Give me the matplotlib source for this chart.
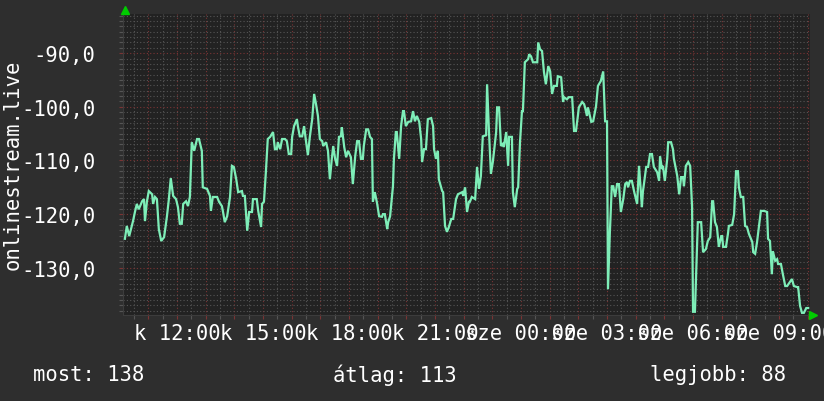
import matplotlib
matplotlib.use('Agg')
import matplotlib.pyplot as plt
from matplotlib.ticker import MultipleLocator, FuncFormatter

# minutes since midnight of the first day (kedd), signal values
t_min = [611, 615, 620, 628, 632, 636, 640, 647, 651, 653, 657, 661, 668, 670, 674, 678,
         682, 687, 693, 699, 703, 707, 712, 718, 722, 726, 730, 733, 739, 743, 747, 751,
         756, 762, 766, 772, 774, 783, 789, 791, 795, 804, 808, 814, 816, 820, 825, 831,
         835, 839, 844, 848, 856, 858, 862, 867, 871, 877, 879, 887, 890, 896, 898, 902,
         906, 910, 915, 921, 925, 929, 931, 936, 940, 946, 950, 954, 959, 961, 965, 971,
         973, 977, 982, 986, 990, 994, 998, 1003, 1007, 1011, 1015, 1019, 1024, 1026, 1032,
         1036, 1040, 1044, 1047, 1051, 1055, 1059, 1063, 1065, 1070, 1074, 1078, 1084, 1088,
         1093, 1097, 1101, 1105, 1109, 1111, 1116, 1120, 1124, 1128, 1130, 1134, 1139, 1143,
         1149, 1151, 1155, 1160, 1162, 1166, 1172, 1174, 1178, 1180, 1185, 1189, 1193, 1195,
         1199, 1204, 1210, 1214, 1218, 1222, 1227, 1231, 1233, 1237, 1241, 1245, 1252, 1256,
         1258, 1262, 1266, 1268, 1275, 1277, 1281, 1285, 1289, 1294, 1298, 1304, 1308, 1317,
         1319, 1323, 1327, 1331, 1333, 1337, 1344, 1348, 1352, 1356, 1360, 1367, 1369, 1373,
         1377, 1381, 1388, 1390, 1394, 1398, 1402, 1404, 1409, 1413, 1415, 1421, 1423, 1427,
         1432, 1434, 1438, 1442, 1444, 1448, 1455, 1457, 1461, 1465, 1474, 1476, 1480, 1484,
         1488, 1492, 1497, 1501, 1505, 1509, 1515, 1517, 1524, 1528, 1530, 1536, 1540, 1547,
         1551, 1555, 1559, 1561, 1568, 1572, 1574, 1578, 1580, 1587, 1591, 1597, 1601, 1607,
         1612, 1616, 1620, 1622, 1626, 1630, 1633, 1637, 1641, 1645, 1649, 1654, 1658, 1662,
         1664, 1668, 1672, 1677, 1683, 1687, 1689, 1693, 1695, 1702, 1706, 1710, 1714, 1718,
         1725, 1729, 1731, 1735, 1737, 1741, 1746, 1748, 1754, 1758, 1760, 1767, 1771, 1775,
         1779, 1781, 1785, 1790, 1794, 1798, 1800, 1804, 1808, 1810, 1817, 1821, 1827, 1831,
         1836, 1840, 1842, 1846, 1850, 1854, 1859, 1861, 1863, 1869, 1873, 1875, 1882, 1886,
         1890, 1894, 1896, 1900, 1905, 1909, 1913, 1917, 1924, 1926, 1930, 1934, 1936, 1942,
         1949, 1955, 1957, 1961, 1965, 1967, 1972, 1976, 1978, 1984, 1988, 1993, 1997, 2003,
         2007, 2011, 2018, 2020, 2024, 2028, 2032, 2037, 2041]

vals = [-124.6, -122.2, -124.1, -121.3, -119.6, -118.1, -119.1, -117.6, -117.2, -121.3,
        -117.7, -115.7, -116.3, -118.1, -116.8, -117.2, -122.8, -125.0, -124.3, -120.4,
        -117.2, -113.3, -116.6, -117.2, -118.7, -121.8, -121.8, -118.1, -117.6, -118.5,
        -116.8, -106.6, -108.2, -106.0, -106.0, -108.2, -115.0, -115.3, -116.6, -119.4,
        -116.8, -116.8, -117.7, -118.5, -119.4, -121.5, -120.4, -116.8, -111.0, -111.2,
        -113.5, -115.9, -115.7, -116.6, -116.6, -123.1, -119.6, -119.6, -117.2, -117.2,
        -119.4, -122.4, -118.1, -117.7, -112.2, -106.0, -105.6, -104.7, -107.9, -107.9,
        -106.6, -107.9, -106.0, -106.0, -106.4, -108.8, -108.8, -105.6, -103.6, -102.3,
        -103.6, -105.5, -105.5, -103.6, -106.4, -109.0, -105.6, -102.3, -97.6, -99.5,
        -101.7, -106.0, -106.4, -107.3, -106.6, -108.2, -113.5, -109.7, -107.3, -109.7,
        -111.0, -105.6, -105.5, -103.8, -107.5, -109.4, -108.2, -109.4, -114.4, -109.2,
        -106.4, -106.4, -109.7, -109.7, -107.3, -104.2, -104.2, -105.6, -106.0, -117.7,
        -115.9, -118.1, -120.4, -120.5, -120.0, -120.0, -122.8, -121.5, -120.4, -114.8,
        -109.7, -104.7, -104.7, -109.7, -103.6, -100.8, -100.8, -103.6, -102.8, -102.7,
        -100.8, -102.7, -101.7, -102.8, -106.0, -110.3, -107.9, -107.9, -102.3, -102.1,
        -103.6, -107.9, -109.7, -108.2, -113.5, -115.7, -115.9, -122.2, -123.3, -122.4,
        -120.9, -120.9, -117.2, -116.3, -115.9, -116.6, -115.0, -119.6, -117.7, -117.7,
        -116.8, -117.2, -111.2, -115.3, -112.9, -105.5, -105.3, -95.8, -104.7, -112.5,
        -110.3, -104.7, -100.1, -100.1, -107.3, -106.9, -107.5, -104.7, -111.0, -105.6,
        -105.6, -115.9, -118.7, -115.3, -115.0, -106.4, -100.8, -100.8, -91.7, -91.1,
        -90.2, -90.6, -91.7, -91.7, -88.0, -89.3, -89.6, -93.5, -95.8, -92.4,
        -93.4, -97.6, -96.1, -96.1, -94.3, -94.5, -99.1, -98.2, -98.6, -98.2,
        -98.2, -104.5, -104.5, -101.7, -100.1, -99.1, -99.5, -100.1, -101.7, -100.1,
        -102.8, -102.7, -99.9, -96.1, -95.2, -93.4, -102.7, -102.7, -134.0, -123.3,
        -114.8, -114.8, -116.8, -114.4, -114.4, -119.6, -117.2, -114.4, -114.0, -115.0,
        -113.8, -113.8, -115.9, -118.1, -111.0, -113.5, -118.7, -115.9, -111.2, -111.2,
        -108.8, -108.8, -111.2, -112.2, -113.8, -109.2, -111.6, -111.0, -113.8, -109.7,
        -106.6, -106.6, -107.9, -109.7, -112.9, -116.3, -113.1, -113.1, -114.8, -111.0,
        -110.3, -111.0, -118.7, -138.2, -138.2, -127.4, -121.5, -121.5, -127.1, -126.5,
        -125.0, -124.3, -117.6, -117.6, -121.5, -122.4, -126.1, -124.1, -124.1, -126.1,
        -126.1, -123.7, -122.2, -122.0, -120.0, -112.0, -112.0, -115.0, -116.8, -116.8,
        -122.2, -122.4, -123.7, -125.2, -127.1, -127.4, -125.2, -123.7, -119.4, -119.4,
        -119.6, -124.6, -125.0, -131.2, -126.9, -128.7, -128.4, -129.3, -129.3, -131.2,
        -133.4, -133.4, -132.6, -132.1, -133.4, -133.6, -133.6, -137.1, -138.4, -138.4,
        -137.5, -137.5]

tick_hours = [12, 15, 18, 21, 24, 27, 30, 33]
tick_labels = ['k 12:00', 'k 15:00', 'k 18:00', 'k 21:00',
               'sze 00:00', 'sze 03:00', 'sze 06:00', 'sze 09:00']
ylabel = 'onlinestream.live'
footer = ['most: 138', 'átlag: 113', 'legjobb: 88']

BG = '#2e2e2e'
PLOT_BG = '#222222'
LINE = '#7eeeb8'
MINOR = '#555555'
MAJOR = '#7a3434'
FG = '#ffffff'

plt.rcParams['font.family'] = ['DejaVu Sans Mono']
FS = 14.8

fig = plt.figure(figsize=(8.24, 4.02), dpi=100, facecolor=BG)
ax = fig.add_axes([123 / 824, 1 - 316 / 402, 687 / 824, 301 / 402])
ax.set_facecolor(PLOT_BG)

hours = [t / 60 for t in t_min]
ax.plot(hours, vals, color=LINE, lw=1.6, zorder=3, solid_joinstyle='miter')

ax.set_xlim(10.117, 34.08)
ax.set_ylim(-138.8, -82.7)

ax.xaxis.set_major_locator(MultipleLocator(1))
ax.xaxis.set_minor_locator(MultipleLocator(0.5))
ax.yaxis.set_major_locator(MultipleLocator(10))
ax.yaxis.set_minor_locator(MultipleLocator(1))

lab = dict(zip(tick_hours, tick_labels))
ax.xaxis.set_major_formatter(FuncFormatter(lambda v, p: lab.get(int(round(v)), '')))
ax.yaxis.set_major_formatter(FuncFormatter(lambda v, p: f'{v:.1f}'.replace('.', ',')))

ax.grid(which='minor', color=MINOR, ls=(0, (1, 2)), lw=0.8, zorder=1)
ax.grid(which='major', color=MAJOR, ls=(0, (1, 2)), lw=0.8, zorder=2)
ax.set_axisbelow(True)

ax.tick_params(axis='both', which='both', colors=FG, labelsize=FS, length=3, width=0.8)
ax.tick_params(axis='x', which='major', color=MAJOR, pad=3)
ax.tick_params(axis='x', which='minor', color=MINOR)
ax.tick_params(axis='y', which='major', color=MAJOR, pad=17)
ax.tick_params(axis='y', which='minor', color=MINOR)

for s in ax.spines.values():
    s.set_visible(False)
ax.spines['bottom'].set_visible(True)
ax.spines['bottom'].set_color('#3c3c3c')
ax.spines['left'].set_visible(True)
ax.spines['left'].set_color('#3c3c3c')

# rrdtool style arrows
ax.plot([0.003], [1.012], marker='^', ms=6, color='#00cc00', transform=ax.transAxes,
        clip_on=False, zorder=5)
ax.plot([1.005], [0.0], marker='>', ms=6, color='#00cc00', transform=ax.transAxes,
        clip_on=False, zorder=5)

fig.text(13 / 824, 0.59, ylabel, rotation=90, color=FG, fontsize=FS,
         ha='center', va='center')

fig.text(33 / 824, 1 - 375 / 402, footer[0], color=FG, fontsize=FS, va='center')
fig.text(333 / 824, 1 - 375 / 402, footer[1], color=FG, fontsize=FS, va='center')
fig.text(650 / 824, 1 - 375 / 402, footer[2], color=FG, fontsize=FS, va='center')

fig.savefig('out.png', dpi=100, facecolor=BG)
